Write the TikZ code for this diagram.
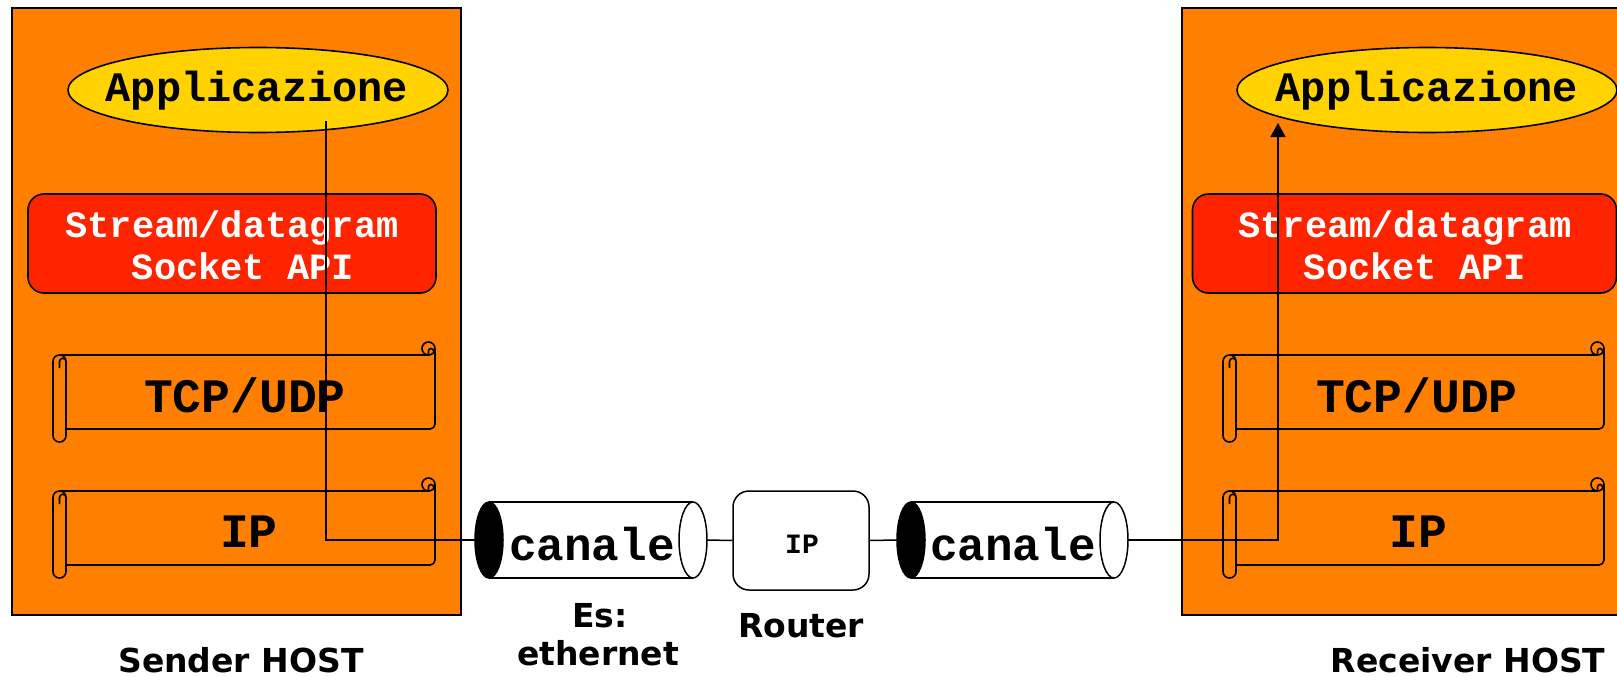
\documentclass[tikz,border=0pt]{standalone}
\usepackage{fontspec}
\setmonofont{Liberation Mono}
\newfontfamily\labelfont{DejaVu Sans}
\usetikzlibrary{shapes.geometric,arrows.meta}
\definecolor{hostorange}{RGB}{255,127,0}
\definecolor{appyellow}{RGB}{255,210,0}
\definecolor{sockred}{RGB}{255,36,0}
\tikzset{
 host/.style={draw=black, line width=2pt, fill=hostorange, inner sep=0pt},
 app/.style={ellipse, draw=black, line width=1.6pt, fill=appyellow, minimum width=380pt, minimum height=85pt, inner sep=0pt},
 apptext/.style={font=\ttfamily\bfseries\fontsize{42}{42}\selectfont, inner sep=0pt, anchor=base},
 sock/.style={rectangle, rounded corners=16pt, draw=black, line width=1.6pt, fill=sockred, minimum height=99pt, inner sep=0pt},
 socktext/.style={text=white, font=\ttfamily\bfseries\fontsize{37}{37}\selectfont, inner sep=0pt, anchor=base},
 layertext/.style={font=\ttfamily\bfseries\fontsize{48}{48}\selectfont, inner sep=0pt, anchor=base},
 chantext/.style={font=\ttfamily\bfseries\fontsize{46}{46}\selectfont, inner sep=0pt, anchor=base},
 scrl/.style={line width=1.6pt, draw=black},
 link/.style={line width=1.5pt},
 lbl/.style={font=\labelfont\bfseries\fontsize{33}{33}\selectfont, inner sep=0pt, anchor=base},
 chan/.style={rectangle, inner sep=0pt, minimum height=76pt},
}
\newcommand{\scrollbox}[4]{% L T R B
  \draw[scrl] ({#1+6.5},{#2}) -- ({#3-6.5},{#2});
  \draw[scrl] ({#3-6.5},{#2-6.5}) circle[radius=6.5];
  \draw[scrl] ({#3-6.5},{#2}) -- ({#3-6.5},{#2-4}) arc[start angle=180,end angle=360,radius=2.5];
  \draw[scrl] (#3,{#2-6.5}) -- (#3,{#4-5}) arc[start angle=0,end angle=90,radius=5] -- ({#1+13},#4);
  \draw[scrl, rounded corners=6.4pt] (#1,#2) rectangle ({#1+13},{#4+13});
  \draw[scrl] ({#1+6.5},{#2+13}) -- ({#1+6.5},{#2+6.5}) arc[start angle=180,end angle=360,radius=3.25];
}
\newcommand{\canale}[2]{% left-ellipse centre x, right-ellipse centre x
  \fill[white] (#1,502) rectangle (#2,578);
  \draw[link] (#1,502) -- (#2,502);
  \draw[link] (#1,578) -- (#2,578);
  \draw[link, fill=black] (#1,540) ellipse[x radius=14, y radius=38];
  \draw[link, fill=white] (#2,540) ellipse[x radius=14, y radius=38];
}
\begin{document}
\begin{tikzpicture}[x=1pt,y=-1pt]
\clip (0,0) rectangle (1617,677);
\fill[white] (0,0) rectangle (1617,677);
% hosts
\node[host, minimum width=449pt, minimum height=607pt] (hostS) at (236.5,311.5) {};
\node[host, minimum width=452pt, minimum height=607pt] (hostR) at (1408,311.5) {};
% applications
\node[app] (appS) at (258,90) {};
\node[app] (appR) at (1427,90) {};
\node[apptext] (appSt) at (257,101) {Applicazione};
\node[apptext] (appRt) at (1427,101) {Applicazione};
% socket API
\node[sock, minimum width=408pt] (sockS) at (232,243.5) {};
\node[sock, minimum width=424pt] (sockR) at (1404.5,243.5) {};
\node[socktext] (sockS1) at (232,237) {Stream/datagram};
\node[socktext] (sockS2) at (243,279) {Socket API};
\node[socktext] (sockR1) at (1405,237) {Stream/datagram};
\node[socktext] (sockR2) at (1415,279) {Socket API};
% scrolls
\scrollbox{53}{355}{435}{429}
\scrollbox{53}{491}{435}{565}
\scrollbox{1223}{355}{1604}{429}
\scrollbox{1223}{491}{1604}{565}
\node[layertext] (tcpS) at (245,412) {TCP/UDP};
\node[layertext] (ipS) at (249,547) {IP};
\node[layertext] (tcpR) at (1417,412) {TCP/UDP};
\node[layertext] (ipR) at (1418,547) {IP};
% channels
\canale{489}{693}
\canale{911}{1114}
\node[chan, minimum width=232pt] (c1) at (591,540) {};
\node[chan, minimum width=231pt] (c2) at (1012.5,540) {};
\node[chantext] (c1t) at (592,560) {canale};
\node[chantext] (c2t) at (1013,560) {canale};
% router
\node[draw=black, line width=1.5pt, rounded corners=16pt, minimum width=136pt, minimum height=99pt, inner sep=0pt, fill=white] (router) at (801,540.5) {};
\node[font=\ttfamily\bfseries\fontsize{28}{28}\selectfont, inner sep=0pt, anchor=base] (routerip) at (802,553) {IP};
% connectors
\coordinate (sTop) at (326,121);
\coordinate (rTop) at (1278,123);
\draw[link] (sTop) |- (c1.west);
\draw[link] (c1.east) -- (router.west);
\draw[link] (router.east) -- (c2.west);
\draw[link, -{Triangle[length=14pt,width=15pt]}] (c2.east) -| (rTop);
% labels
\node[lbl] (es) at (600,627) {Es:};
\node[lbl] (eth) at (598,665) {ethernet};
\node[lbl] (rout) at (801,637) {Router};
\node[lbl] (sender) at (241,672) {Sender HOST};
\node[lbl] (receiver) at (1468,672) {Receiver HOST};
\end{tikzpicture}
\end{document}
